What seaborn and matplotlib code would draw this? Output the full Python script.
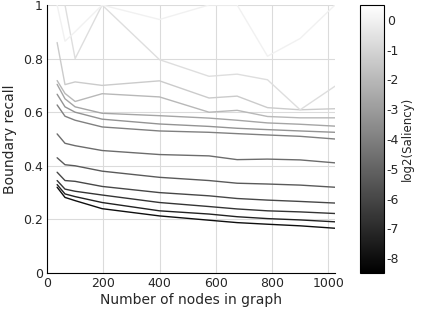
import numpy as np
import pandas as pd
import matplotlib
matplotlib.use("Agg")
import matplotlib.pyplot as plt
import seaborn as sns

nodes = [36, 64, 100, 196, 400, 576, 676, 784, 900, 1024]
saliency = [0.0, -0.67, -1.33, -2.0, -2.67, -3.33, -4.0, -4.67, -5.33, -6.0, -6.67, -7.33, -8.0]
recall = [
    [1.0, 0.865, 0.90, 1.0, 0.946, 1.0, 1.0, 0.809, 0.875, 1.0],
    [1.0, 1.0, 0.80, 1.0, 0.796, 0.734, 0.742, 0.721, 0.609, 0.697],
    [0.86, 0.703, 0.713, 0.70, 0.717, 0.653, 0.66, 0.617, 0.609, 0.613],
    [0.718, 0.67, 0.64, 0.669, 0.657, 0.60, 0.607, 0.584, 0.579, 0.579],
    [0.704, 0.65, 0.62, 0.596, 0.587, 0.578, 0.57, 0.56, 0.555, 0.548],
    [0.667, 0.62, 0.60, 0.574, 0.556, 0.547, 0.54, 0.535, 0.53, 0.525],
    [0.627, 0.585, 0.57, 0.545, 0.53, 0.525, 0.52, 0.515, 0.51, 0.50],
    [0.519, 0.484, 0.475, 0.457, 0.442, 0.437, 0.423, 0.425, 0.422, 0.411],
    [0.43, 0.404, 0.40, 0.38, 0.357, 0.345, 0.335, 0.332, 0.328, 0.32],
    [0.376, 0.345, 0.342, 0.323, 0.30, 0.288, 0.278, 0.272, 0.267, 0.261],
    [0.345, 0.313, 0.305, 0.291, 0.263, 0.248, 0.239, 0.232, 0.228, 0.222],
    [0.33, 0.295, 0.285, 0.263, 0.232, 0.22, 0.21, 0.203, 0.198, 0.191],
    [0.32, 0.282, 0.27, 0.240, 0.213, 0.197, 0.188, 0.182, 0.176, 0.167],
]
x_ticks = [0, 200, 400, 600, 800, 1000]
y_ticks = [0, 0.2, 0.4, 0.6, 0.8, 1]
y_ticklabels = ["0", "0.2", "0.4", "0.6", "0.8", "1"]
cbar_ticks = [0, -1, -2, -3, -4, -5, -6, -7, -8]

rows = []
for s, vals in zip(saliency, recall):
    for n, v in zip(nodes, vals):
        rows.append({"nodes": n, "recall": v, "saliency": s})
df = pd.DataFrame(rows)

sns.set_style("white")
plt.rcParams['font.family'] = ['DejaVu Sans']
plt.rcParams['axes.unicode_minus'] = False
txt = (0.15, 0.15, 0.15)

W, H = 421, 316
fig = plt.figure(figsize=(W / 100, H / 100), dpi=100)
ax = fig.add_axes([47 / W, (H - 273) / H, (335 - 47) / W, (273 - 5) / H])

cmap = plt.get_cmap("gray")
norm = matplotlib.colors.Normalize(vmin=-8.5, vmax=0.5)
sns.lineplot(data=df, x="nodes", y="recall", hue="saliency", palette=cmap,
             hue_norm=norm, legend=False, ax=ax, linewidth=1.0,
             estimator=None, sort=False)

ax.set_xlim(0, 1024)
ax.set_ylim(0, 1)
ax.set_xticks(x_ticks)
ax.set_yticks(y_ticks)
ax.set_yticklabels(y_ticklabels)
ax.grid(True, color=(0.86, 0.86, 0.86), linewidth=0.8)
ax.set_axisbelow(True)
for sp in ["top", "right"]:
    ax.spines[sp].set_visible(False)
for sp in ["left", "bottom"]:
    ax.spines[sp].set_color("black")
    ax.spines[sp].set_linewidth(0.8)
ax.tick_params(direction="in", length=3, width=0.6, labelsize=9, colors=txt,
               pad=3)
ax.set_xlabel("Number of nodes in graph", fontsize=10, color=txt, labelpad=2)
ax.set_ylabel("Boundary recall", fontsize=10, color=txt, labelpad=4)

cax = fig.add_axes([360 / W, (H - 273) / H, 24 / W, (273 - 5) / H])
sm = matplotlib.cm.ScalarMappable(norm=norm, cmap=cmap)
cb = fig.colorbar(sm, cax=cax)
cb.set_ticks(cbar_ticks)
cb.set_ticklabels([str(t) for t in cbar_ticks])
cb.outline.set_edgecolor("black")
cb.outline.set_linewidth(0.8)
cax.tick_params(direction="in", length=3, width=0.6, labelsize=9, colors=txt,
                pad=2)
cb.set_label("log2(Saliency)", fontsize=8.5, color=txt, labelpad=1)

fig.savefig("out.png", dpi=100)
